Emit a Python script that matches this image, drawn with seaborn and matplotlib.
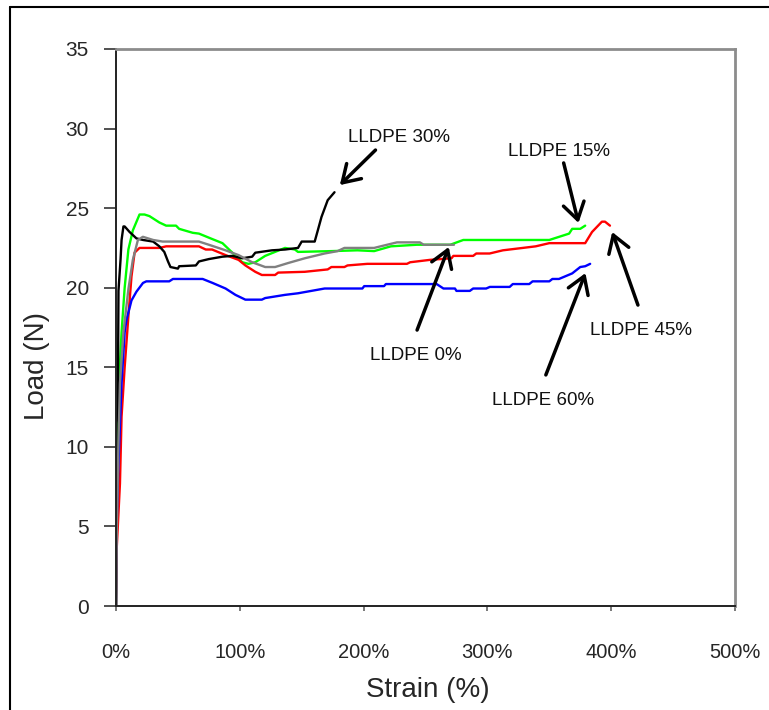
import matplotlib
matplotlib.use("Agg")
import matplotlib.pyplot as plt
from matplotlib.lines import Line2D
from matplotlib.ticker import FuncFormatter
import pandas as pd
import seaborn as sns

# Load-strain curves for LLDPE blends (strain in %, load in N)
strain_0 = [0, 0.5, 1.9, 3.2, 6, 10, 13.6, 17.7, 21.7, 30, 37.7, 67, 75, 88.5, 99, 110,
            120.5, 128.5, 139, 152.5, 168.5, 179, 184.5, 208.5, 219, 227, 245.5, 248.5, 273]
load_0 = [0, 4, 10, 14, 17.2, 19.9, 21.75, 23.0, 23.2, 23.0, 22.9, 22.9, 22.7, 22.35, 22.05, 21.6,
          21.3, 21.3, 21.55, 21.85, 22.15, 22.3, 22.5, 22.5, 22.7, 22.85, 22.85, 22.7, 22.7]

strain_15 = [0, 1, 2, 4.5, 7, 10, 13.6, 19, 23, 27, 35, 40.5, 48.5, 51, 62, 67, 78, 86, 94, 102,
             107, 112.5, 120.5, 128.5, 136.5, 144.5, 147, 174, 195, 208.5, 222, 243, 270, 280.5,
             350, 366, 368.5, 375, 379]
load_15 = [0, 8, 13.4, 17.2, 20, 22.4, 23.6, 24.6, 24.6, 24.5, 24.1, 23.9, 23.9, 23.7, 23.45, 23.4,
           23.05, 22.8, 22.2, 21.6, 21.5, 21.6, 22.0, 22.25, 22.5, 22.4, 22.25, 22.3, 22.35, 22.3,
           22.6, 22.7, 22.7, 23.0, 23.0, 23.4, 23.7, 23.7, 23.9]

strain_30 = [0, 0.5, 1.5, 2, 3.7, 4.5, 6, 7, 11, 16.5, 21.8, 30, 35, 39, 42, 44, 50, 51, 64.5, 67,
             75, 86, 94, 102, 110, 112.5, 126, 136.5, 147, 150, 160.5, 163, 166, 171, 176.5]
load_30 = [0, 11.5, 12.5, 19.8, 21.8, 23.0, 23.85, 23.85, 23.5, 23.1, 23.0, 22.9, 22.6, 22.25,
           21.65, 21.3, 21.2, 21.35, 21.4, 21.65, 21.8, 21.95, 22.0, 21.85, 21.95, 22.2, 22.35,
           22.4, 22.5, 22.9, 22.9, 23.6, 24.45, 25.5, 26.0]

strain_45 = [0, 0.5, 3.2, 4.5, 7, 10, 12.5, 15, 19, 35, 40.5, 67, 72.5, 77.6, 88.5, 99, 104.5,
             112.5, 117.8, 128.5, 131, 152.5, 171, 174, 184.5, 187, 203, 235, 237.6, 253.6, 271,
             272.5, 288.5, 291, 301.8, 312.5, 328.5, 339, 350, 379, 384.5, 392.5, 395, 399]
load_45 = [0, 3.5, 7.7, 11.9, 15, 18.2, 20.7, 22.2, 22.5, 22.5, 22.6, 22.6, 22.4, 22.4, 22.05,
           21.75, 21.4, 21.0, 20.8, 20.8, 20.95, 21.0, 21.15, 21.3, 21.3, 21.4, 21.5, 21.5, 21.6,
           21.75, 21.85, 22.0, 22.0, 22.15, 22.15, 22.35, 22.5, 22.6, 22.8, 22.8, 23.5, 24.15,
           24.15, 23.9]

strain_60 = [0, 0.3, 1.9, 4.5, 7, 8.5, 11.2, 12.5, 16.5, 21.8, 24.5, 43, 46, 70, 78, 88.5, 96.5,
             104.5, 117.8, 120.5, 136.5, 147, 168.5, 199, 200.5, 216.5, 218, 259, 264.5, 273.8,
             275, 285.8, 288.5, 299, 302, 318, 320.5, 333.8, 336.5, 350, 352.5, 357.8, 368.5,
             375, 379, 383]
load_60 = [0, 4.6, 8.75, 14, 17.2, 18.0, 18.8, 19.2, 19.75, 20.3, 20.4, 20.4, 20.55, 20.55, 20.3,
           19.95, 19.55, 19.25, 19.25, 19.35, 19.55, 19.65, 19.95, 19.95, 20.1, 20.1, 20.23,
           20.23, 19.95, 19.95, 19.8, 19.8, 19.95, 19.95, 20.05, 20.05, 20.23, 20.23, 20.4, 20.4,
           20.55, 20.55, 20.9, 21.3, 21.35, 21.5]

series_names = ["LLDPE 15%", "LLDPE 45%", "LLDPE 60%", "LLDPE 30%", "LLDPE 0%"]
series_strain = [strain_15, strain_45, strain_60, strain_30, strain_0]
series_load = [load_15, load_45, load_60, load_30, load_0]
series_colors = ["#00ff00", "#ff0000", "#0000ff", "#000000", "#808080"]

# Callouts: label, arrow head (strain, load), arrow tail, label position
callout_labels = ["LLDPE 30%", "LLDPE 15%", "LLDPE 0%", "LLDPE 60%", "LLDPE 45%"]
callout_heads = [(180.8, 26.45), (373.6, 24.07), (268.8, 22.56), (379.2, 20.92), (400.8, 23.5)]
callout_tails = [(209.6, 28.65), (361.6, 27.84), (243.2, 17.34), (347.2, 14.52), (421.6, 18.91)]
callout_text_pos = [(187.2, 29.47), (358.0, 28.53), (242.4, 15.71), (344.8, 12.94), (424.4, 17.34)]
callout_ha = ["left", "center", "center", "center", "center"]

x_ticks = [0, 100, 200, 300, 400, 500]
y_ticks = [0, 5, 10, 15, 20, 25, 30, 35]

frames = []
for name, xs, ys in zip(series_names, series_strain, series_load):
    frames.append(pd.DataFrame({"Strain": xs, "Load": ys, "Sample": name}))
df = pd.concat(frames, ignore_index=True)

sns.set_style("white")
plt.rcParams["font.family"] = ["Liberation Sans", "DejaVu Sans"]

fig = plt.figure(figsize=(7.69, 7.10), dpi=100)
W, H = 769, 710
ax = fig.add_axes([116 / W, 104 / H, (735 - 116) / W, (606 - 49) / H])

sns.lineplot(data=df, x="Strain", y="Load", hue="Sample", hue_order=series_names,
             palette=dict(zip(series_names, series_colors)), sort=False, estimator=None,
             units="Sample", linewidth=1.7, legend=False, ax=ax)

ax.set_xlim(0, 500)
ax.set_ylim(0, 35)
ax.set_xticks(x_ticks)
ax.set_yticks(y_ticks)
ax.xaxis.set_major_formatter(FuncFormatter(lambda v, p: f"{v:.0f}%"))

for side in ("left", "bottom"):
    ax.spines[side].set_color("#222222")
    ax.spines[side].set_linewidth(1.4)
for side in ("top", "right"):
    ax.spines[side].set_color("#8c8c8c")
    ax.spines[side].set_linewidth(2.0)

ax.tick_params(axis="y", direction="out", length=8.6, width=1.1, color="#222222",
               pad=11, labelsize=15, left=True)
ax.tick_params(axis="x", direction="out", length=3.6, width=1.1, color="#555555",
               pad=23, labelsize=14.5, bottom=True)

ax.set_xlabel("Strain (%)", fontsize=20, va="center")
ax.set_ylabel("Load (N)", fontsize=20, va="center")
ax.xaxis.set_label_coords(0.504, -0.151)
ax.yaxis.set_label_coords(-0.128, 0.431)

for label, head, tail, pos, ha in zip(callout_labels, callout_heads, callout_tails,
                                      callout_text_pos, callout_ha):
    ax.annotate("", xy=head, xytext=tail,
                arrowprops=dict(arrowstyle="->,head_length=0.6,head_width=0.38",
                                color="black", lw=2.5, mutation_scale=20,
                                shrinkA=0, shrinkB=0))
    ax.text(pos[0], pos[1], label, ha=ha, va="center", fontsize=13.5, color="#111111")

# Outer chart-area frame (left and top edges)
fig.add_artist(Line2D([10 / W, 10 / W], [0, 1 - 7 / H], transform=fig.transFigure,
                      color="black", lw=1.5))
fig.add_artist(Line2D([10 / W, 1], [1 - 7 / H, 1 - 7 / H], transform=fig.transFigure,
                      color="black", lw=1.5))

fig.savefig("out.png", dpi=100, facecolor="white")
